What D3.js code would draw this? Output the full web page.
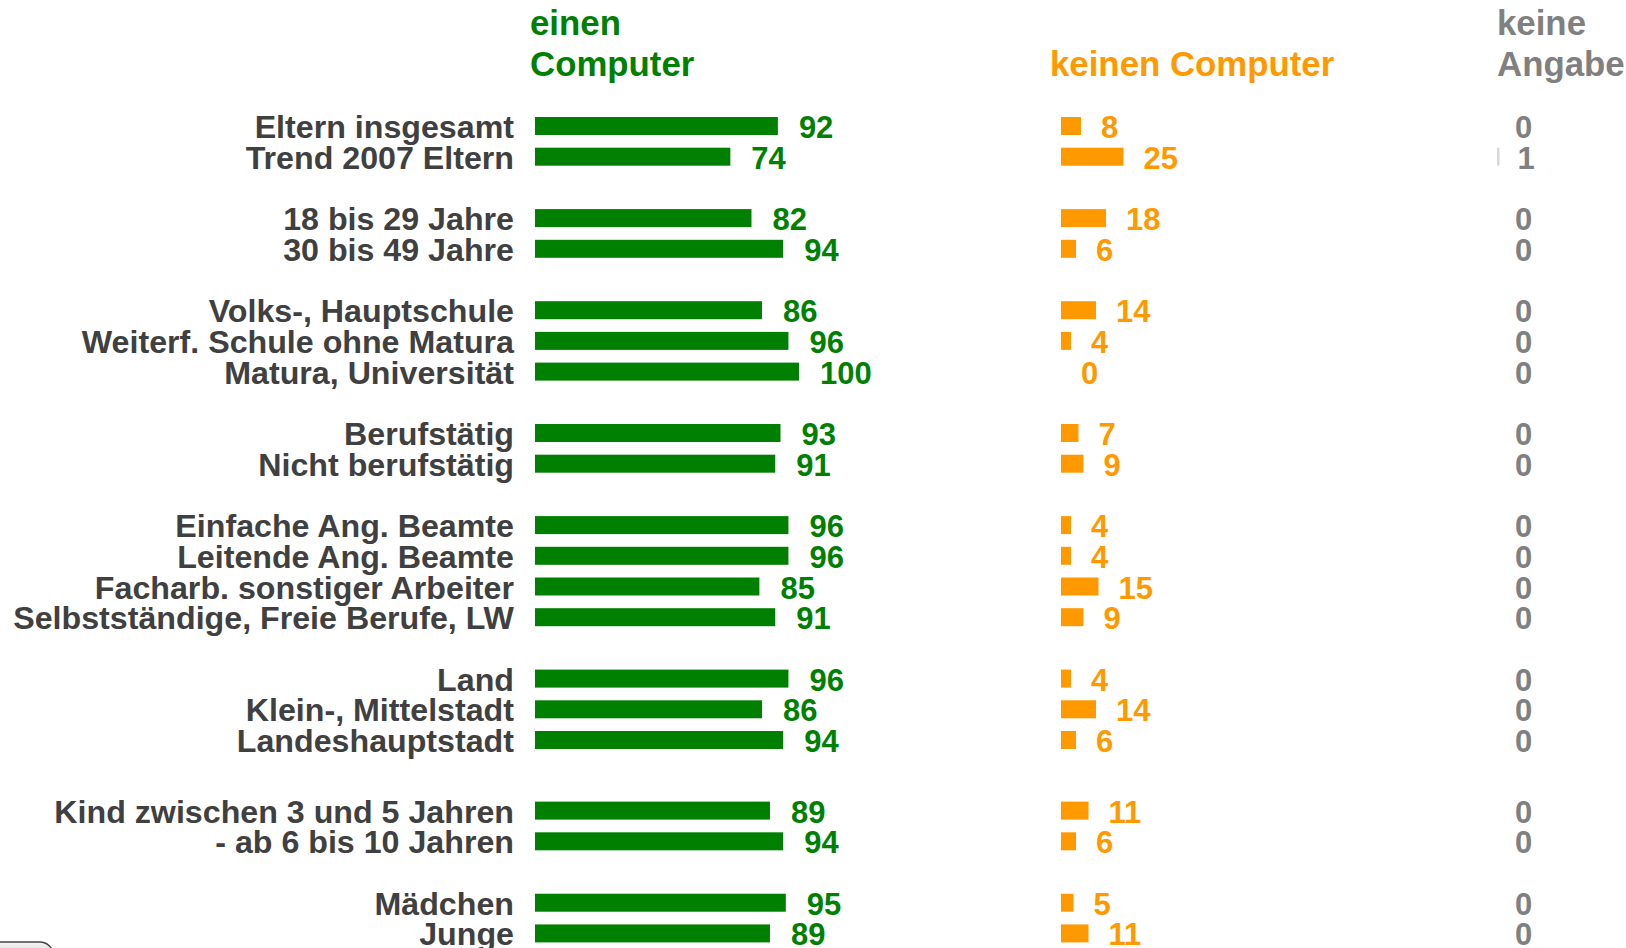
<!DOCTYPE html>
<html>
<head>
<meta charset="utf-8">
<script src="https://cdn.jsdelivr.net/npm/d3@7/dist/d3.min.js"></script>
<style>
  html, body { margin: 0; padding: 0; background: #ffffff; overflow: hidden; }
  svg { display: block; }
  text { font-family: "Liberation Sans", Arial, Helvetica, sans-serif; font-weight: bold; }
</style>
</head>
<body>
<svg id="chart" width="1626" height="948"></svg>
<script>
// ---- data ----
const categories = [
  "Eltern insgesamt", "Trend 2007 Eltern",
  "18 bis 29 Jahre", "30 bis 49 Jahre",
  "Volks-, Hauptschule", "Weiterf. Schule ohne Matura", "Matura, Universität",
  "Berufstätig", "Nicht berufstätig",
  "Einfache Ang. Beamte", "Leitende Ang. Beamte", "Facharb. sonstiger Arbeiter", "Selbstständige, Freie Berufe, LW",
  "Land", "Klein-, Mittelstadt", "Landeshauptstadt",
  "Kind zwischen 3 und 5 Jahren", "- ab 6 bis 10 Jahren",
  "Mädchen", "Junge"
];
const groupOf = [0,0, 1,1, 2,2,2, 3,3, 4,4,4,4, 5,5,5, 6,6, 7,7];
const einenComputer  = [92,74, 82,94, 86,96,100, 93,91, 96,96,85,91, 96,86,94, 89,94, 95,89];
const keinenComputer = [8,25, 18,6, 14,4,0, 7,9, 4,4,15,9, 4,14,6, 11,6, 5,11];
const keineAngabe    = [0,1, 0,0, 0,0,0, 0,0, 0,0,0,0, 0,0,0, 0,0, 0,0];
const seriesNames = [["einen", "Computer"], ["keinen Computer"], ["keine", "Angabe"]];

// ---- layout ----
const svg = d3.select("#chart");
const COLORS = ["#008000", "#ff9900", "#808080"];
const LABEL_COLOR = "#404040";
const barH = 18;

// slot positions: each group separated by one empty slot (a little more before group 6)
const slots = [];
let s = 0;
categories.forEach((c, i) => {
  if (i > 0 && groupOf[i] !== groupOf[i - 1]) s += (groupOf[i] === 6 ? 2.3 : 2);
  else if (i > 0) s += 1;
  slots.push(s);
});
const y = d3.scaleLinear().domain([0, 1]).range([126, 156.7]);

const cols = [
  { vals: einenComputer,  x: d3.scaleLinear().domain([0, 100]).range([535, 799]), off: 21 },
  { vals: keinenComputer, x: d3.scaleLinear().domain([0, 100]).range([1061, 1311]), off: 20 },
  { vals: keineAngabe,    x: d3.scaleLinear().domain([0, 100]).range([1497, 1747]), off: 18 }
];

// row labels
svg.append("g").selectAll("text").data(categories).join("text")
  .attr("x", 514)
  .attr("y", (d, i) => y(slots[i]) + 12)
  .attr("text-anchor", "end")
  .attr("font-size", 32.2)
  .attr("fill", LABEL_COLOR)
  .text(d => d);

// bars and values
cols.forEach((col, ci) => {
  const g = svg.append("g");
  g.selectAll("rect").data(col.vals).join("rect")
    .attr("x", col.x(0))
    .attr("y", (d, i) => y(slots[i]) - barH / 2)
    .attr("width", d => col.x(d) - col.x(0))
    .attr("height", barH)
    .attr("fill", ci === 2 ? "#d8d8d8" : COLORS[ci]);
  g.selectAll("text").data(col.vals).join("text")
    .attr("x", d => col.x(d) + col.off)
    .attr("y", (d, i) => y(slots[i]) + 12)
    .attr("font-size", 31)
    .attr("fill", COLORS[ci])
    .text(d => d);
});

// headers
const headerPos = [
  { x: 530, lines: [35, 76] },
  { x: 1050, lines: [76] },
  { x: 1497, lines: [35, 76] }
];
seriesNames.forEach((lines, ci) => {
  lines.forEach((t, li) => {
    svg.append("text")
      .attr("x", headerPos[ci].x)
      .attr("y", headerPos[ci].lines[li])
      .attr("font-size", 34.8)
      .attr("fill", COLORS[ci])
      .text(t);
  });
});

// partial button in the lower-left corner
const grad = svg.append("defs").append("linearGradient").attr("id", "btn")
  .attr("x1", 0).attr("y1", 0).attr("x2", 0).attr("y2", 1);
grad.append("stop").attr("offset", 0).attr("stop-color", "#f4f4f4");
grad.append("stop").attr("offset", 1).attr("stop-color", "#bdbdbd");
svg.append("rect").attr("x", -20).attr("y", 942).attr("width", 73).attr("height", 30)
  .attr("rx", 13).attr("fill", "url(#btn)").attr("stroke", "#444").attr("stroke-width", 1.5);
</script>
</body>
</html>
